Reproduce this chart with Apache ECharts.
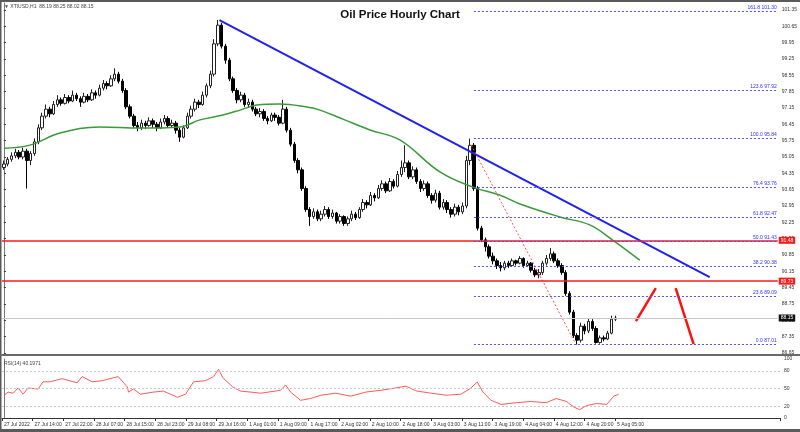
<!DOCTYPE html>
<html><head><meta charset="utf-8">
<script src="https://cdn.jsdelivr.net/npm/echarts@6/dist/echarts.min.js"></script>
<style>html,body{margin:0;padding:0;background:#fff}#c{width:800px;height:432px}</style>
</head><body><div id="c"></div>
<script>
// ---- data ----
const opens = [94.60,94.75,94.95,95.10,95.25,95.05,95.30,94.90,95.20,95.70,96.30,96.80,97.10,96.90,97.30,97.50,97.35,97.60,97.45,97.70,97.55,97.40,97.65,97.50,97.80,97.70,98.00,98.20,98.10,98.40,98.60,98.30,97.90,97.20,96.80,96.40,96.30,96.50,96.40,96.60,96.45,96.30,96.55,96.70,96.40,96.50,96.20,95.90,96.30,96.80,97.10,97.40,97.30,97.70,98.10,98.60,99.90,100.70,99.80,99.20,98.40,97.90,97.50,97.70,97.30,97.40,97.10,96.90,97.00,96.70,96.60,96.85,96.75,96.50,97.10,96.20,95.60,94.90,94.50,93.70,92.80,92.50,92.70,92.40,92.60,92.80,92.50,92.65,92.30,92.50,92.20,92.40,92.60,92.45,92.80,93.10,93.00,93.40,93.30,93.70,93.90,93.60,94.00,93.80,94.30,94.60,94.80,94.20,94.50,94.00,93.70,93.90,93.40,93.20,93.50,92.90,93.10,92.80,92.60,92.90,92.70,92.95,94.90,95.55,93.70,92.00,91.50,91.20,90.80,90.60,90.40,90.30,90.50,90.40,90.60,90.50,90.70,90.40,90.50,90.20,90.00,90.10,90.50,90.70,90.90,90.60,90.40,90.10,89.20,88.40,87.40,87.20,87.80,87.60,88.00,87.70,87.10,87.30,87.25,87.50,88.10];
const closes = [94.75,94.95,95.10,95.25,95.05,95.30,94.90,95.20,95.70,96.30,96.80,97.10,96.90,97.30,97.50,97.35,97.60,97.45,97.70,97.55,97.40,97.65,97.50,97.80,97.70,98.00,98.20,98.10,98.40,98.60,98.30,97.90,97.20,96.80,96.40,96.30,96.50,96.40,96.60,96.45,96.30,96.55,96.70,96.40,96.50,96.20,95.90,96.30,96.80,97.10,97.40,97.30,97.70,98.10,98.60,99.90,100.70,99.80,99.20,98.40,97.90,97.50,97.70,97.30,97.40,97.10,96.90,97.00,96.70,96.60,96.85,96.75,96.50,97.10,96.20,95.60,94.90,94.50,93.70,92.80,92.50,92.70,92.40,92.60,92.80,92.50,92.65,92.30,92.50,92.20,92.40,92.60,92.45,92.80,93.10,93.00,93.40,93.30,93.70,93.90,93.60,94.00,93.80,94.30,94.60,94.80,94.20,94.50,94.00,93.70,93.90,93.40,93.20,93.50,92.90,93.10,92.80,92.60,92.90,92.70,92.95,94.90,95.55,93.70,92.00,91.50,91.20,90.80,90.60,90.40,90.30,90.50,90.40,90.60,90.50,90.70,90.40,90.50,90.20,90.00,90.10,90.50,90.70,90.90,90.60,90.40,90.10,89.20,88.40,87.40,87.20,87.80,87.60,88.00,87.70,87.10,87.30,87.25,87.50,88.10,88.15];
const lows = [94.50,94.65,94.85,95.00,94.95,94.95,93.70,94.70,95.10,95.60,96.20,96.70,96.75,96.85,97.20,97.25,97.30,97.35,97.40,97.45,97.20,97.35,97.40,97.45,97.55,97.65,97.90,97.95,98.05,98.30,98.20,97.80,97.10,96.70,96.30,96.15,96.20,96.25,96.35,96.30,96.15,96.25,96.45,96.30,96.30,96.05,95.70,95.85,96.25,96.70,97.00,97.15,97.25,97.60,98.00,98.50,99.80,99.70,99.05,98.30,97.80,97.35,97.40,97.20,97.15,97.00,96.80,96.75,96.60,96.45,96.55,96.60,96.40,96.45,96.10,95.50,94.80,94.35,93.60,92.70,92.10,92.40,92.30,92.30,92.50,92.40,92.40,92.20,92.20,92.10,92.10,92.30,92.35,92.40,92.70,92.85,92.95,93.15,93.25,93.60,93.50,93.55,93.70,93.75,94.20,94.40,94.10,94.10,93.90,93.55,93.60,93.30,93.05,93.10,92.80,92.80,92.65,92.45,92.50,92.55,92.60,92.85,94.70,93.60,91.90,91.40,91.00,90.70,90.45,90.25,90.15,90.20,90.30,90.35,90.40,90.45,90.30,90.35,90.10,89.90,89.85,90.00,90.40,90.60,90.50,90.30,90.00,89.10,88.30,87.30,87.01,87.10,87.45,87.50,87.60,87.05,87.05,87.15,87.20,87.45,88.02];
const highs = [94.90,95.05,95.25,95.40,95.35,95.45,95.40,95.30,95.85,96.45,96.95,97.30,97.20,97.45,97.70,97.60,97.75,97.70,97.90,97.80,97.65,97.80,97.75,97.95,97.90,98.15,98.35,98.30,98.55,98.85,98.70,98.40,98.00,97.30,96.90,96.55,96.65,96.60,96.75,96.70,96.55,96.70,96.85,96.80,96.65,96.60,96.30,96.40,96.95,97.25,97.55,97.50,97.85,98.20,98.75,100.10,100.92,100.80,99.90,99.30,98.50,98.00,97.85,97.80,97.55,97.50,97.20,97.15,97.10,96.80,96.95,96.95,96.85,97.50,97.20,96.30,95.70,95.00,94.60,93.80,92.90,92.85,92.80,92.75,92.95,92.90,92.80,92.70,92.60,92.55,92.50,92.75,92.70,92.90,93.25,93.20,93.55,93.50,93.85,94.05,94.00,94.15,94.10,94.45,94.90,95.55,94.90,94.65,94.60,94.10,94.05,94.00,93.50,93.65,93.60,93.25,93.20,92.90,93.05,93.00,93.10,95.10,95.84,95.65,93.80,92.10,91.60,91.30,90.95,90.70,90.55,90.60,90.60,90.70,90.65,90.80,90.75,90.60,90.55,90.30,90.25,90.60,90.85,91.15,91.00,90.70,90.50,90.20,89.30,88.50,87.50,87.95,87.90,88.15,88.10,87.80,87.40,87.40,87.60,88.25,88.25];
const tickLabels = ['27 Jul 2022','27 Jul 14:00','27 Jul 22:00','28 Jul 07:00','28 Jul 15:00','28 Jul 23:00','29 Jul 08:00','29 Jul 16:00','1 Aug 01:00','1 Aug 09:00','1 Aug 17:00','2 Aug 02:00','2 Aug 10:00','2 Aug 18:00','3 Aug 03:00','3 Aug 11:00','3 Aug 19:00','4 Aug 04:00','4 Aug 12:00','4 Aug 20:00','5 Aug 05:00'];
const barsPerTick = 8;
const slotCount = 203;
const maIdx = [0,6.8,14.7,25.1,35.6,46.1,51.3,57.3,61.8,66.2,72.2,79.3,82.7,89.2,95.8,103.6,114.1,122.7,129.7,135.8,145.5,153.3,159.3,166.4];
const maVal = [95.43,95.56,96.08,96.34,96.29,96.34,96.64,96.85,97.06,97.28,97.32,97.19,97.06,96.64,96.21,95.78,94.41,93.76,93.42,92.99,92.48,92.14,91.49,90.63];
const rsiIdx = [0,1.1,2.4,3.7,5.0,6.3,8.9,10.2,12.1,15.2,19.1,20.4,23.0,25.7,27.7,29.8,32.2,32.5,33.8,35.6,39.0,41.6,45.3,47.4,49.5,52.6,54.7,56.0,57.1,59.7,61.8,64.4,67,72.2,73.5,74.8,77.4,80,82.7,86.6,90.5,94.5,98.4,102.3,104.9,107.5,111.5,115.4,119.3,121.9,123.5,125,127.1,129.7,133.7,137.6,141.5,144.1,146.8,148.6,150.2,152,154.6,157.3,159.1,160.4];
const rsiVal = [38.6,43.9,42.1,50.9,40.4,50.9,49.1,61.4,61.4,66.7,59.6,70.2,61.4,63.2,66.7,70.2,52.6,43.9,49.1,40.4,43.9,45.6,35.1,40.4,61.4,63.2,70.2,82.5,68.4,52.6,45.6,43.9,42,47,56,44,30,33,38.6,42,37,44,47,51,54,46,42,38.6,40.4,51,61,44,30,23,26,28,26,33,28,19,14,21,24.6,23,37,40.2];
const rsiLevels = [80, 50, 20];
const fibNames = ['161.8','123.6','100.0','76.4','61.8','50.0','38.2','23.6','0.0'];
const fibPrices = [101.30, 97.92, 95.84, 93.76, 92.47, 91.43, 90.38, 89.09, 87.01];
const fibStartIdx = 123;
const redLevels = [91.48, 89.73];
const lastPrice = 88.15;
const trendIdx = [56.4, 184.7];
const trendVal = [100.92, 89.90];
const swingIdx = [122.3, 149.5];
const swingVal = [95.56, 87.08];
const arrowUpIdx = [165.4, 170.6];
const arrowUpVal = [88.02, 89.43];
const arrowDownIdx = [175.8, 180.5];
const arrowDownVal = [89.43, 87.03];
const headerText = '\u25BC XTIUSD,H1  88.19 88.25 88.02 88.15';
const rsiText = 'RSI(14) 40.1971';
const titleText = 'Oil Price Hourly Chart';

// ---- build ----
const cats = Array.from({length: slotCount}, (_, i) => String(i));
const candles = opens.map((o, i) => [o, closes[i], lows[i], highs[i]]);
const pairs = (a, b) => a.map((v, i) => [v, b[i]]);
const isTick = (i) => i % barsPerTick === 0 && (i / barsPerTick) < tickLabels.length;
const FONT = 'Liberation Sans, Arial, sans-serif';

const chart = echarts.init(document.getElementById('c'), null, {renderer: 'canvas'});
const option = {
  animation: false,
  backgroundColor: '#ffffff',
  textStyle: {fontFamily: FONT},
  title: {text: titleText, left: 'center', top: 4,
    textStyle: {fontSize: 11.5, fontWeight: 'bold', color: '#111', fontFamily: FONT}},
  grid: [
    {left: 2, right: 20, top: 3, height: 350},
    {left: 2, right: 20, top: 359, height: 59}
  ],
  xAxis: [
    {type: 'category', gridIndex: 0, data: cats, boundaryGap: true,
      axisLine: {show: false}, axisTick: {show: false}, axisLabel: {show: false}, splitLine: {show: false}},
    {type: 'value', gridIndex: 0, min: -0.5, max: slotCount - 0.5, show: false},
    {type: 'category', gridIndex: 1, data: cats, boundaryGap: true,
      axisLine: {show: true, lineStyle: {color: '#333', width: 1}},
      axisTick: {show: true, length: 3, lineStyle: {color: '#333'}, interval: (i) => isTick(i)},
      axisLabel: {show: true, interval: (i) => isTick(i), formatter: (v, i) => tickLabels[i / barsPerTick] || '',
        fontSize: 5, color: '#333', align: 'left', margin: 4},
      splitLine: {show: false}},
    {type: 'value', gridIndex: 1, min: -0.5, max: slotCount - 0.5, show: false}
  ],
  yAxis: [
    {type: 'value', gridIndex: 0, position: 'right', min: 86.65, max: 101.65, interval: 0.7,
      axisLine: {show: true, lineStyle: {color: '#777', width: 1}},
      axisTick: {show: true, length: 2, lineStyle: {color: '#333'}},
      axisLabel: {fontSize: 5, color: '#333', margin: 4, showMaxLabel: false, formatter: (v) => v.toFixed(2)},
      splitLine: {show: false}},
    {type: 'value', gridIndex: 1, position: 'right', min: 0, max: 100, interval: 10,
      axisLine: {show: true, lineStyle: {color: '#777', width: 1}},
      axisTick: {show: false},
      axisLabel: {fontSize: 5, color: '#333', margin: 4,
        formatter: (v) => ([0, 20, 50, 80, 100].indexOf(v) >= 0 ? String(v) : '')},
      splitLine: {show: false}}
  ],
  series: [
    {type: 'candlestick', xAxisIndex: 0, yAxisIndex: 0, data: candles, barWidth: 3,
      itemStyle: {color: '#ffffff', color0: '#000000', borderColor: '#222', borderColor0: '#000', borderWidth: 1},
      markLine: {silent: true, symbol: ['none', 'none'], animation: false,
        data: [
          ...redLevels.map(v => ({yAxis: v, lineStyle: {color: '#ff1a1a', width: 1.5, type: 'solid'},
            label: {show: true, position: 'end', formatter: v.toFixed(2), backgroundColor: '#ff1a1a', color: '#fff',
              fontSize: 5, padding: [1, 2], distance: 1}})),
          {yAxis: lastPrice, lineStyle: {color: '#c8c8c8', width: 1, type: 'solid'},
            label: {show: true, position: 'end', formatter: lastPrice.toFixed(2), backgroundColor: '#111', color: '#fff',
              fontSize: 5, padding: [1, 2], distance: 1}}
        ]}},
    {type: 'line', xAxisIndex: 1, yAxisIndex: 0, data: pairs(maIdx, maVal), smooth: 0.4, symbol: 'none',
      lineStyle: {color: '#3a9a3a', width: 1.5}},
    {type: 'line', xAxisIndex: 1, yAxisIndex: 0, data: pairs(trendIdx, trendVal), symbol: 'none',
      lineStyle: {color: '#2020f0', width: 2},
      markLine: {silent: true, symbol: ['none', 'none'], animation: false,
        lineStyle: {color: '#5050ff', width: 1, type: [2, 2]},
        label: {show: true, position: 'insideEndTop', fontSize: 5, color: '#3030ff', distance: 1},
        data: fibPrices.map((p, k) => [
          {coord: [fibStartIdx, p], label: {formatter: fibNames[k] + ' ' + p.toFixed(2)}},
          {coord: [slotCount - 0.5, p]}
        ])}},
    {type: 'line', xAxisIndex: 1, yAxisIndex: 0, data: pairs(swingIdx, swingVal), symbol: 'none',
      lineStyle: {color: '#ff5050', width: 1, type: [2, 2]}},
    {type: 'line', xAxisIndex: 1, yAxisIndex: 0, data: pairs(arrowUpIdx, arrowUpVal), symbol: 'none',
      lineStyle: {color: '#ff1010', width: 2.5}},
    {type: 'line', xAxisIndex: 1, yAxisIndex: 0, data: pairs(arrowDownIdx, arrowDownVal), symbol: 'none',
      lineStyle: {color: '#ff1010', width: 2.5}},
    {type: 'line', xAxisIndex: 3, yAxisIndex: 1, data: pairs(rsiIdx, rsiVal), symbol: 'none',
      lineStyle: {color: '#ff5a5a', width: 1},
      markLine: {silent: true, symbol: ['none', 'none'], animation: false, label: {show: false},
        lineStyle: {color: '#c8c8c8', width: 1, type: [2, 2]},
        data: rsiLevels.map(v => ({yAxis: v}))}}
  ],
  graphic: [
    {type: 'rect', left: 0, top: 0, shape: {width: 800, height: 2}, style: {fill: '#5a5a5a'}, z: 100},
    {type: 'rect', left: 0, top: 0, shape: {width: 1.5, height: 432}, style: {fill: '#5a5a5a'}, z: 100},
    {type: 'rect', left: 0, top: 354, shape: {width: 800, height: 2}, style: {fill: '#6a6a6a'}, z: 100},
    {type: 'rect', left: 0, top: 429, shape: {width: 800, height: 3}, style: {fill: '#5a5a5a'}, z: 100},
    {type: 'text', left: 4, top: 4, style: {text: headerText, fontSize: 5, fill: '#444', fontFamily: FONT}, z: 100},
    {type: 'text', left: 4, top: 361, style: {text: rsiText, fontSize: 5, fill: '#444', fontFamily: FONT}, z: 100}
  ]
};
chart.setOption(option);
</script>
</body></html>
